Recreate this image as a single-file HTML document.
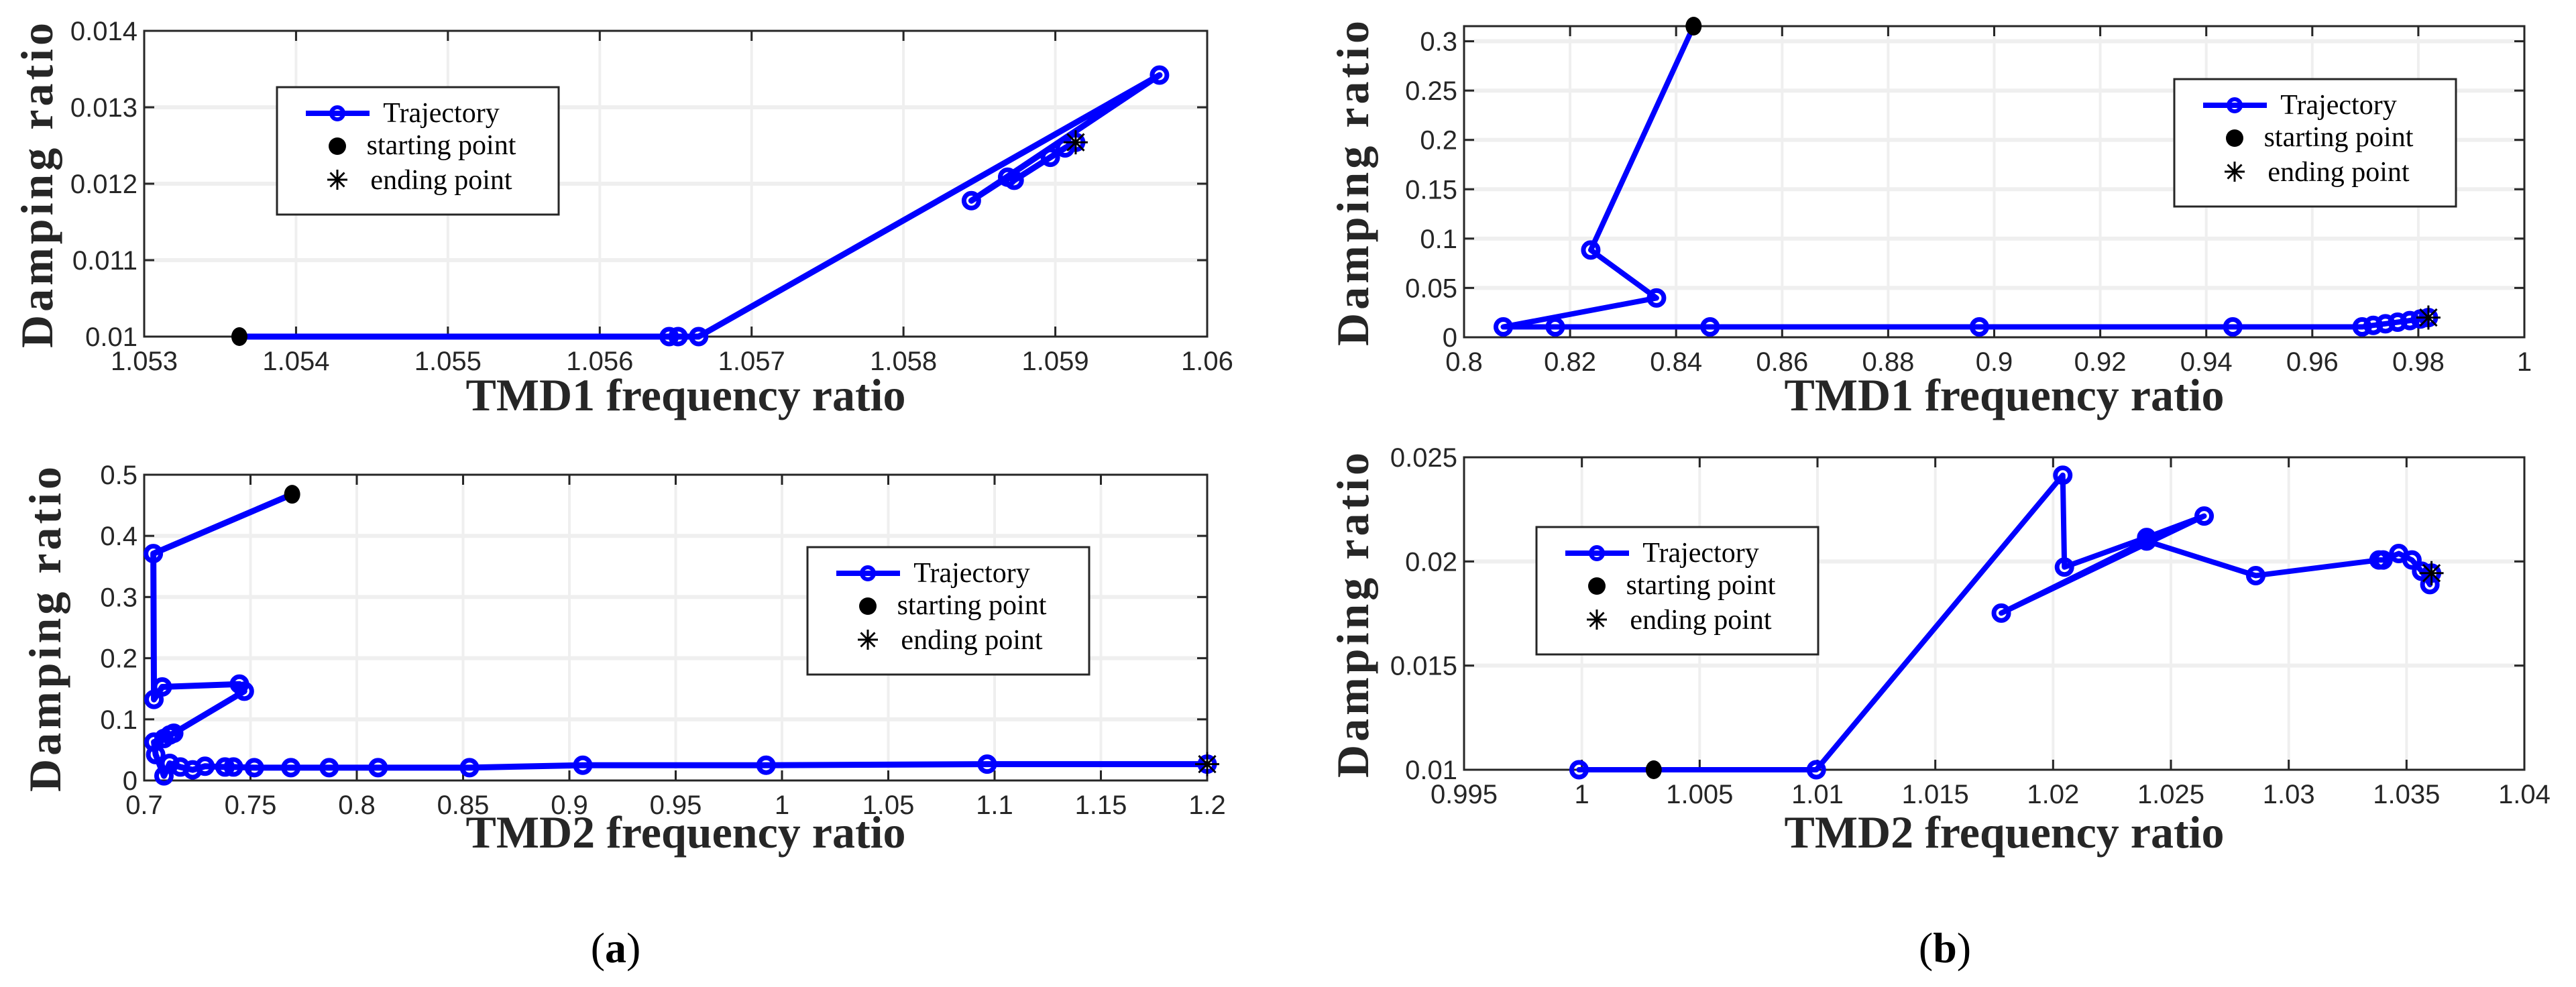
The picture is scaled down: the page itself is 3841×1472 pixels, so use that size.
<!DOCTYPE html>
<html><head><meta charset="utf-8"><style>
html,body{margin:0;padding:0;background:#fff;}
svg{display:block;}
</style></head><body>
<svg id="fig" width="3841" height="1472" viewBox="0 0 3841 1472" xmlns="http://www.w3.org/2000/svg">
<rect width="3841" height="1472" fill="#fff"/>
<text x="918" y="1435" font-family="Liberation Serif, serif" font-size="64" text-anchor="middle">(<tspan font-weight="bold">a</tspan>)</text>
<text x="2900" y="1435" font-family="Liberation Serif, serif" font-size="64" text-anchor="middle">(<tspan font-weight="bold">b</tspan>)</text>
</svg>
<script>
// ---- Panel a-top data ----
const aTopX = [1.053627,1.056457,1.056516,1.056651,1.059686,1.058447,1.058686,1.058729,1.058967,1.059064,1.059134];
const aTopY = [0.01,0.01,0.01,0.01,0.013421,0.011778,0.012086,0.012045,0.012345,0.012468,0.012542];
const aTopXTicks = [1.053,1.054,1.055,1.056,1.057,1.058,1.059,1.06];
const aTopXLabels = ["1.053","1.054","1.055","1.056","1.057","1.058","1.059","1.06"];
const aTopYTicks = [0.01,0.011,0.012,0.013,0.014];
const aTopYLabels = ["0.01","0.011","0.012","0.013","0.014"];
// ---- Panel a-bottom data ----
const aBotX = [0.7696,0.7043,0.7046,0.7085,0.7448,0.7471,0.7139,0.712,0.7093,0.7046,0.7054,0.7093,0.712,0.717,0.7228,0.7286,0.738,0.742,0.7518,0.769,0.787,0.810,0.853,0.9063,0.9925,1.0965,1.2];
const aBotY = [0.468,0.371,0.1326,0.153,0.1576,0.146,0.0773,0.0744,0.0686,0.0628,0.0424,0.0076,0.028,0.022,0.0174,0.0233,0.022,0.022,0.021,0.021,0.021,0.021,0.021,0.025,0.025,0.0267,0.0267];
const aBotXTicks = [0.7,0.75,0.8,0.85,0.9,0.95,1,1.05,1.1,1.15,1.2];
const aBotXLabels = ["0.7","0.75","0.8","0.85","0.9","0.95","1","1.05","1.1","1.15","1.2"];
const aBotYTicks = [0,0.1,0.2,0.3,0.4,0.5];
const aBotYLabels = ["0","0.1","0.2","0.3","0.4","0.5"];
// ---- Panel b-top data ----
const bTopX = [0.8433,0.8239,0.8363,0.8074,0.8172,0.8464,0.8972,0.945,0.9694,0.9715,0.9738,0.9761,0.9784,0.9804,0.9819];
const bTopY = [0.3153,0.0884,0.0398,0.0105,0.0105,0.0105,0.0105,0.0105,0.0105,0.0121,0.0137,0.0153,0.0169,0.0185,0.02];
const bTopXTicks = [0.8,0.82,0.84,0.86,0.88,0.9,0.92,0.94,0.96,0.98,1];
const bTopXLabels = ["0.8","0.82","0.84","0.86","0.88","0.9","0.92","0.94","0.96","0.98","1"];
const bTopYTicks = [0,0.05,0.1,0.15,0.2,0.25,0.3];
const bTopYLabels = ["0","0.05","0.1","0.15","0.2","0.25","0.3"];
// ---- Panel b-bottom data ----
const bBotX = [1.00305,0.99988,1.00995,1.02041,1.02048,1.02397,1.02641,1.0178,1.02397,1.0286,1.03383,1.034,1.03467,1.03523,1.03564,1.03599,1.03606];
const bBotY = [0.01,0.01,0.01,0.02414,0.01973,0.02115,0.02218,0.01752,0.02098,0.01932,0.02007,0.02007,0.02038,0.02007,0.01953,0.01889,0.01944];
const bBotXTicks = [0.995,1,1.005,1.01,1.015,1.02,1.025,1.03,1.035,1.04];
const bBotXLabels = ["0.995","1","1.005","1.01","1.015","1.02","1.025","1.03","1.035","1.04"];
const bBotYTicks = [0.01,0.015,0.02,0.025];
const bBotYLabels = ["0.01","0.015","0.02","0.025"];

const NS = "http://www.w3.org/2000/svg";
const svg = document.getElementById('fig');
function mk(tag, attrs, parent){
  const e = document.createElementNS(NS, tag);
  for (const k in attrs) e.setAttribute(k, attrs[k]);
  (parent||svg).appendChild(e);
  return e;
}
function panel(cfg){
  const g = mk('g', {});
  
  
  const L=cfg.L,R=cfg.R,T=cfg.T,B=cfg.B;
  const sx = v => L + (v-cfg.x0)/(cfg.x1-cfg.x0)*(R-L);
  const sy = v => B - (v-cfg.y0)/(cfg.y1-cfg.y0)*(B-T);
  cfg.xt.forEach((v,i)=>{
    const x = sx(v);
    if (x>L+2 && x<R-2) {
      const gl = mk('line',{x1:x,y1:T,x2:x,y2:B,stroke:'#efefef','stroke-width':4},g);
      
      
    }
    const t1 = mk('line',{x1:x,y1:B,x2:x,y2:B-15,stroke:'#262626','stroke-width':3},g);
    
    
    mk('line',{x1:x,y1:T,x2:x,y2:T+15,stroke:'#262626','stroke-width':3},g);
    const tl = mk('text',{x:x,y:B+50,'text-anchor':'middle','font-family':'Liberation Sans, sans-serif','font-size':40,fill:'#262626'},g);
    tl.textContent = cfg.xl[i];
    
    
  });
  cfg.yt.forEach((v,i)=>{
    const y = sy(v);
    if (y>T+2 && y<B-2) {
      const gl = mk('line',{x1:L,y1:y,x2:R,y2:y,stroke:'#efefef','stroke-width':6},g);
      
      
    }
    const t1 = mk('line',{x1:L,y1:y,x2:L+15,y2:y,stroke:'#262626','stroke-width':3},g);
    
    
    mk('line',{x1:R,y1:y,x2:R-15,y2:y,stroke:'#262626','stroke-width':3},g);
    const tl = mk('text',{x:L-10,y:y+14,'text-anchor':'end','font-family':'Liberation Sans, sans-serif','font-size':40,fill:'#262626'},g);
    tl.textContent = cfg.yl[i];
    
    
  });
  const box = mk('rect',{x:L,y:T,width:R-L,height:B-T,fill:'none',stroke:'#262626','stroke-width':3},g);
  
  
  const pts = cfg.xs.map((v,i)=>sx(v)+','+sy(cfg.ys[i])).join(' ');
  const pl = mk('polyline',{points:pts,fill:'none',stroke:'#0000ff','stroke-width':cfg.lw,'stroke-linejoin':'round'},g);
  
  
  cfg.xs.forEach((v,i)=>{
    if (i===0) return;
    const c = mk('circle',{cx:sx(v),cy:sy(cfg.ys[i]),r:11,fill:'none',stroke:'#0000ff','stroke-width':7},g);
    
    
  });
  const n = cfg.xs.length-1;
  const ex = sx(cfg.xs[n]), ey = sy(cfg.ys[n]);
  const sp = mk('ellipse',{cx:sx(cfg.xs[0]),cy:sy(cfg.ys[0]),rx:12,ry:14,fill:'#000'},g);
  
  
  star(g, ex, ey, 18, 'ending-point');
  const xt = mk('text',{x:(L+R)/2+15,y:cfg.xty,'text-anchor':'middle','font-family':'Liberation Serif, serif','font-weight':'bold','font-size':68,fill:'#262626'},g);
  xt.textContent = cfg.xtitle;
  
  
  const yt = mk('text',{x:0,y:0,'text-anchor':'middle','font-family':'Liberation Serif, serif','font-weight':'bold','font-size':68,'letter-spacing':5,fill:'#262626',transform:'translate('+cfg.ytx+','+((T+B)/2)+') rotate(-90)'},g);
  yt.textContent = 'Damping ratio';
  
  
  const lg = mk('g',{},g);
  
  
  const lx=cfg.lx, ly=cfg.ly;
  mk('rect',{x:lx,y:ly,width:420,height:190,fill:'#fff',stroke:'#262626','stroke-width':3},lg);
  const ll = mk('line',{x1:lx+43,y1:ly+39,x2:lx+138,y2:ly+39,stroke:'#0000ff','stroke-width':8},lg);
  
  
  mk('circle',{cx:lx+90,cy:ly+39,r:9,fill:'none',stroke:'#0000ff','stroke-width':6},lg);
  mk('circle',{cx:lx+90,cy:ly+88,r:13,fill:'#000'},lg);
  star(lg, lx+90, ly+138, 15, 'legend-star-swatch');
  [['Trajectory',52],['starting point',100],['ending point',152]].forEach(r=>{
    const t = mk('text',{x:lx+245,y:ly+r[1],'text-anchor':'middle','font-family':'Liberation Serif, serif','font-size':42,fill:'#000'},lg);
    t.textContent = r[0];
    
    
  });
}
function star(parent,x,y,s,name){
  const g = mk('g',{stroke:'#000','stroke-width':3},parent);
  
  
  mk('line',{x1:x-s,y1:y,x2:x+s,y2:y},g);
  mk('line',{x1:x,y1:y-s,x2:x,y2:y+s},g);
  const d = s*0.7;
  mk('line',{x1:x-d,y1:y-d,x2:x+d,y2:y+d},g);
  mk('line',{x1:x-d,y1:y+d,x2:x+d,y2:y-d},g);
}
panel({name:'panel-a-top',L:215,R:1800,T:46,B:502,x0:1.053,x1:1.06,y0:0.01,y1:0.014,xs:aTopX,ys:aTopY,xt:aTopXTicks,xl:aTopXLabels,yt:aTopYTicks,yl:aTopYLabels,lw:9,xty:612,ytx:78,xtitle:'TMD1 frequency ratio',lx:413,ly:130});
panel({name:'panel-a-bottom',L:215,R:1800,T:708,B:1164,x0:0.7,x1:1.2,y0:0,y1:0.5,xs:aBotX,ys:aBotY,xt:aBotXTicks,xl:aBotXLabels,yt:aBotYTicks,yl:aBotYLabels,lw:9,xty:1264,ytx:90,xtitle:'TMD2 frequency ratio',lx:1204,ly:816});
panel({name:'panel-b-top',L:2183,R:3764,T:39,B:503,x0:0.8,x1:1.0,y0:0,y1:0.3153,xs:bTopX,ys:bTopY,xt:bTopXTicks,xl:bTopXLabels,yt:bTopYTicks,yl:bTopYLabels,lw:8,xty:612,ytx:2040,xtitle:'TMD1 frequency ratio',lx:3242,ly:118});
panel({name:'panel-b-bottom',L:2183,R:3764,T:682,B:1148,x0:0.995,x1:1.04,y0:0.01,y1:0.025,xs:bBotX,ys:bBotY,xt:bBotXTicks,xl:bBotXLabels,yt:bBotYTicks,yl:bBotYLabels,lw:8,xty:1264,ytx:2040,xtitle:'TMD2 frequency ratio',lx:2291,ly:786});
</script>
</body></html>
